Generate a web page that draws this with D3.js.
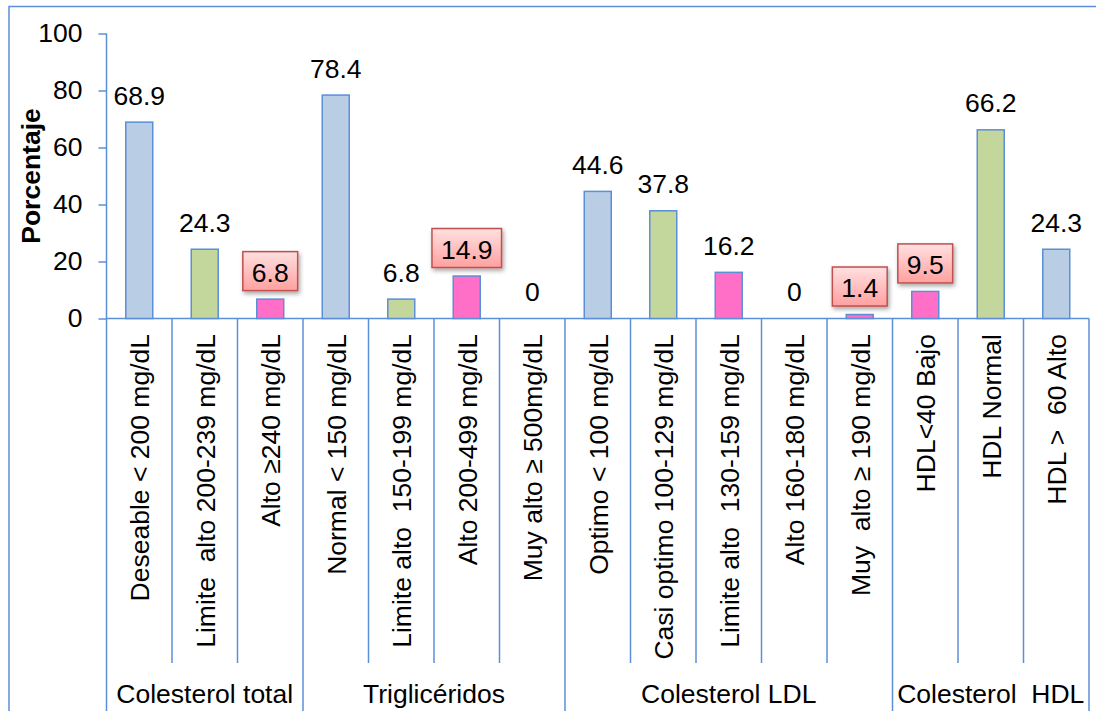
<!DOCTYPE html>
<html>
<head>
<meta charset="utf-8">
<script src="https://cdn.jsdelivr.net/npm/d3@7"></script>
<style>
  html, body { margin: 0; padding: 0; background: #fff; }
  svg { display: block; }
  text { font-family: "Liberation Sans", Arial, sans-serif; fill: #000; white-space: pre; }
</style>
</head>
<body>
<svg id="chart" width="1096" height="711"></svg>
<script>
const groups = ["Colesterol total", "Triglicéridos", "Colesterol LDL", "Colesterol  HDL"];
const groupSizes = [3, 4, 5, 3];
const categories = [
  "Deseable < 200 mg/dL", "Limite  alto 200-239 mg/dL", "Alto ≥240 mg/dL",
  "Normal < 150 mg/dL", "Limite alto  150-199 mg/dL", "Alto 200-499 mg/dL", "Muy alto ≥ 500mg/dL",
  "Optimo < 100 mg/dL", "Casi optimo 100-129 mg/dL", "Limite alto  130-159 mg/dL", "Alto 160-180 mg/dL", "Muy  alto ≥ 190 mg/dL",
  "HDL<40 Bajo", "HDL Normal", "HDL >  60 Alto"
];
const values = [68.9, 24.3, 6.8, 78.4, 6.8, 14.9, 0, 44.6, 37.8, 16.2, 0, 1.4, 9.5, 66.2, 24.3];
const kinds = ["blue", "green", "pink", "blue", "green", "pink", "pink", "blue", "green", "pink", "pink", "pink", "pink", "green", "blue"];
const boxed = [false, false, true, false, false, true, false, false, false, false, false, true, true, false, false];
const yTicks = [0, 20, 40, 60, 80, 100];
const yTitle = "Porcentaje";

const fills = { blue: "#b9cde5", green: "#c3d69b", pink: "#ff6fc8" };
const lineColor = "#5b8fd8";
const fs = 26.5;

const svg = d3.select("#chart");
const defs = svg.append("defs");
const grad = defs.append("linearGradient").attr("id", "boxGrad").attr("x1", 0).attr("y1", 0).attr("x2", 0).attr("y2", 1);
grad.append("stop").attr("offset", "0%").attr("stop-color", "#ffe0e0");
grad.append("stop").attr("offset", "100%").attr("stop-color", "#ffa0a0");
const filt = defs.append("filter").attr("id", "shadow").attr("x", "-20%").attr("y", "-20%").attr("width", "150%").attr("height", "160%");
filt.append("feDropShadow").attr("dx", 1.5).attr("dy", 2.5).attr("stdDeviation", 2).attr("flood-color", "#000").attr("flood-opacity", 0.35);

const pLeft = 106.5, pRight = 1089, pTop = 33.5, zeroY = 318.5, pBottom = 711;
const x = d3.scaleBand().domain(d3.range(categories.length)).range([pLeft, pRight]).paddingInner(0).paddingOuter(0);
const y = d3.scaleLinear().domain([0, 100]).range([zeroY, pTop]);
const bw = x.bandwidth();
const barW = 27;

// outer frame
svg.append("path").attr("d", `M9,720 V6.5 H1110`).attr("fill", "none").attr("stroke", lineColor).attr("stroke-width", 1.5);

// y axis
const yAxis = d3.axisLeft(y).tickValues(yTicks).tickSize(8).tickPadding(16).tickFormat(d3.format("d"));
const yg = svg.append("g").attr("transform", `translate(${pLeft},0)`).call(yAxis);
yg.select(".domain").remove();
yg.selectAll(".tick line").attr("stroke", lineColor).attr("stroke-width", 1.5);
yg.selectAll(".tick text").attr("font-size", fs).attr("font-family", "Liberation Sans, Arial, sans-serif").attr("fill", "#000");
svg.append("line").attr("x1", pLeft).attr("x2", pLeft).attr("y1", pTop).attr("y2", pBottom).attr("stroke", lineColor).attr("stroke-width", 1.5);

// y title
svg.append("text").attr("transform", `translate(40,${(pTop + zeroY) / 2}) rotate(-90)`)
  .attr("text-anchor", "middle").attr("font-size", fs).attr("font-weight", "bold").text(yTitle);

// x axis baseline
svg.append("line").attr("x1", pLeft).attr("x2", pRight).attr("y1", zeroY).attr("y2", zeroY).attr("stroke", lineColor).attr("stroke-width", 1.5);

// separators
const groupStarts = [];
let acc = 0;
groupSizes.forEach(s => { groupStarts.push(acc); acc += s; });
for (let i = 1; i <= categories.length; i++) {
  const xx = i < categories.length ? x(i) : pRight;
  const isGroup = groupStarts.includes(i) || i === categories.length;
  svg.append("line").attr("x1", xx).attr("x2", xx).attr("y1", zeroY).attr("y2", isGroup ? pBottom : 663)
    .attr("stroke", lineColor).attr("stroke-width", 1.5);
}

// bars
values.forEach((v, i) => {
  if (v <= 0) return;
  const cx = x(i) + bw / 2;
  svg.append("rect").attr("x", cx - barW / 2).attr("y", y(v)).attr("width", barW).attr("height", zeroY - y(v))
    .attr("fill", fills[kinds[i]]).attr("stroke", lineColor).attr("stroke-width", 1.5);
});

// value labels
values.forEach((v, i) => {
  const cx = x(i) + bw / 2;
  const base = y(v) - 17.5;
  const label = String(v);
  if (boxed[i]) {
    const tw = label.length * 0.556 * fs - (label.includes(".") ? (0.556 - 0.278) * fs : 0);
    const w = tw + 18;
    svg.append("rect").attr("x", cx - w / 2).attr("y", base - 30).attr("width", w).attr("height", 39)
      .attr("fill", "url(#boxGrad)").attr("stroke", "#c0504d").attr("stroke-width", 1.5).attr("filter", "url(#shadow)");
  }
  svg.append("text").attr("x", cx).attr("y", base).attr("text-anchor", "middle").attr("font-size", fs).text(label);
});

// category labels
categories.forEach((c, i) => {
  const cx = x(i) + bw / 2;
  svg.append("text").attr("transform", `translate(${cx + 10},334) rotate(-90)`)
    .attr("text-anchor", "end").attr("font-size", fs).text(c);
});

// group labels
groups.forEach((g, gi) => {
  const s = groupStarts[gi];
  const e = s + groupSizes[gi];
  const x0 = x(s), x1 = e < categories.length ? x(e) : pRight;
  svg.append("text").attr("x", (x0 + x1) / 2).attr("y", 703).attr("text-anchor", "middle").attr("font-size", fs).text(g);
});
</script>
</body>
</html>
